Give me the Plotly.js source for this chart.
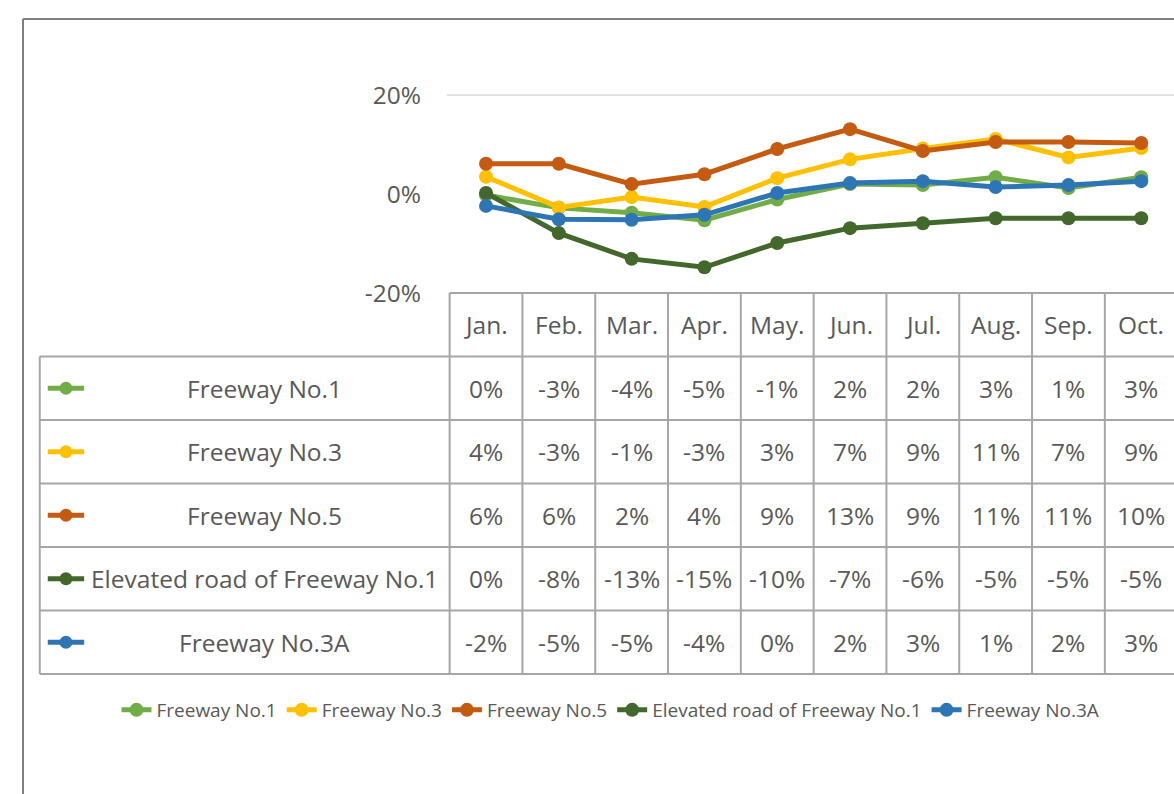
<!DOCTYPE html>
<html>
<head>
<meta charset="utf-8">
<script src="https://cdn.plot.ly/plotly-3.0.1.min.js"></script>
<style>
  html, body { margin: 0; padding: 0; background: #fff; }
  #chart { width: 1174px; height: 794px; }
</style>
</head>
<body>
<div id="chart"></div>
<script>
// months shown in the data table (the picture is cut off after Oct.)
var months = ["Jan.", "Feb.", "Mar.", "Apr.", "May.", "Jun.", "Jul.", "Aug.", "Sep.", "Oct."];

// series names and colours
var names = ["Freeway No.1", "Freeway No.3", "Freeway No.5", "Elevated road of Freeway No.1", "Freeway No.3A"];
var colors = ["#70AD47", "#FFC000", "#C55A11", "#43682B", "#2E75B6"];

// values in %
var freeway1 = [-0.2, -2.8, -3.8, -5.3, -1.1, 2.0, 1.8, 3.4, 1.2, 3.4];
var freeway3 = [3.5, -2.7, -0.6, -2.6, 3.2, 7.0, 9.2, 11.1, 7.4, 9.3];
var freeway5 = [6.1, 6.1, 2.0, 4.0, 9.1, 13.1, 8.7, 10.5, 10.5, 10.3];
var elevated1 = [0.2, -7.9, -13.1, -14.8, -9.9, -6.9, -5.9, -4.9, -4.9, -4.9];
var freeway3A = [-2.4, -5.1, -5.2, -4.2, 0.2, 2.2, 2.6, 1.4, 1.8, 2.6];

var series = [freeway1, freeway3, freeway5, elevated1, freeway3A];

var yTicks = [-20, 0, 20];

var textColor = "#595959";
var gridColor = "#A6A6A6";
var font = "Open Sans, Liberation Sans, sans-serif";

var xs = months.map(function (m, i) { return i; });

var data = [];
series.forEach(function (vals, k) {
  data.push({
    x: xs,
    y: vals,
    name: names[k],
    type: "scatter",
    mode: "lines+markers",
    line: { color: colors[k], width: 5 },
    marker: { color: colors[k], size: 14 },
    xaxis: "x",
    yaxis: "y",
    hoverinfo: "skip"
  });
});

// legend keys inside the table (left column): a short line with a dot
var keyLeft = -6.02, keyMid = -5.77, keyRight = -5.52;
series.forEach(function (vals, k) {
  var row = k + 1.5;
  data.push({
    x: [keyLeft, keyRight],
    y: [row, row],
    type: "scatter",
    mode: "lines",
    line: { color: colors[k], width: 5 },
    xaxis: "x",
    yaxis: "y2",
    showlegend: false,
    hoverinfo: "skip"
  });
  data.push({
    x: [keyMid],
    y: [row],
    type: "scatter",
    mode: "markers",
    marker: { color: colors[k], size: 13 },
    xaxis: "x",
    yaxis: "y2",
    showlegend: false,
    hoverinfo: "skip"
  });
});

// table text and lines
var annotations = [];
var shapes = [];
var cellFont = { family: font, size: 24.5, color: textColor };
var labelX = -3.04;
var tableLeft = -6.13;
var tableRight = 9.8;

months.forEach(function (m, i) {
  annotations.push({ x: i, y: 0.5, xref: "x", yref: "y2", text: m, showarrow: false, font: cellFont });
});
series.forEach(function (vals, k) {
  var row = k + 1.5;
  annotations.push({ x: labelX, y: row, xref: "x", yref: "y2", text: names[k], showarrow: false, font: cellFont });
  vals.forEach(function (v, i) {
    var r = Math.round(v);
    if (r === 0) r = 0;
    annotations.push({ x: i, y: row, xref: "x", yref: "y2", text: r + "%", showarrow: false, font: cellFont });
  });
});

var tableLine = { color: gridColor, width: 2 };
// horizontal lines
shapes.push({ type: "line", xref: "x", yref: "y2", x0: -0.5, x1: tableRight, y0: 0, y1: 0, line: tableLine });
for (var r = 1; r <= series.length + 1; r++) {
  shapes.push({ type: "line", xref: "x", yref: "y2", x0: tableLeft, x1: tableRight, y0: r, y1: r, line: tableLine });
}
// vertical lines
shapes.push({ type: "line", xref: "x", yref: "y2", x0: tableLeft, x1: tableLeft, y0: 1, y1: series.length + 1, line: tableLine });
for (var c = 0; c <= months.length; c++) {
  shapes.push({ type: "line", xref: "x", yref: "y2", x0: c - 0.5, x1: c - 0.5, y0: 0, y1: series.length + 1, line: tableLine });
}
// the only gridline that shows, at 20%
shapes.push({ type: "line", xref: "x", yref: "y", x0: -0.54, x1: tableRight, y0: 20, y1: 20, layer: "below", line: { color: "#D9D9D9", width: 1.5 } });
// chart area border (cut off at right and bottom)
shapes.push({ type: "line", xref: "paper", yref: "paper", x0: 23 / 1174, x1: 1.01, y0: 1 - 19 / 794, y1: 1 - 19 / 794, line: { color: "#808080", width: 2 } });
shapes.push({ type: "line", xref: "paper", yref: "paper", x0: 23 / 1174, x1: 23 / 1174, y0: 1 - 19 / 794, y1: -0.01, line: { color: "#808080", width: 2 } });

var layout = {
  width: 1174,
  height: 794,
  margin: { l: 0, r: 0, t: 0, b: 0 },
  paper_bgcolor: "#fff",
  plot_bgcolor: "rgba(0,0,0,0)",
  font: { family: font, color: textColor },
  xaxis: {
    domain: [0, 1],
    range: [-6.676, 9.45],
    visible: false,
    fixedrange: true
  },
  yaxis: {
    domain: [1 - 300 / 794, 1 - 60 / 794],
    range: [-21.41, 27.07],
    anchor: "free",
    position: 450 / 1174,
    tickvals: yTicks,
    ticktext: yTicks.map(function (t) { return t + "%"; }),
    ticks: "",
    ticklabelstandoff: 29,
    showgrid: false,
    zeroline: false,
    showline: false,
    tickfont: { family: font, size: 24.5, color: textColor },
    fixedrange: true
  },
  yaxis2: {
    domain: [1 - 690 / 794, 1 - 280 / 794],
    range: [6.252, -0.2047],
    anchor: "x",
    visible: false,
    fixedrange: true
  },
  showlegend: true,
  legend: {
    orientation: "h",
    x: 0.52,
    xanchor: "center",
    y: 1 - 710 / 794,
    yanchor: "middle",
    font: { family: font, size: 19, color: textColor },
    itemwidth: 30,
    tracegroupgap: 0
  },
  annotations: annotations,
  shapes: shapes
};

Plotly.newPlot("chart", data, layout, { displayModeBar: false, staticPlot: true });
</script>
</body>
</html>
